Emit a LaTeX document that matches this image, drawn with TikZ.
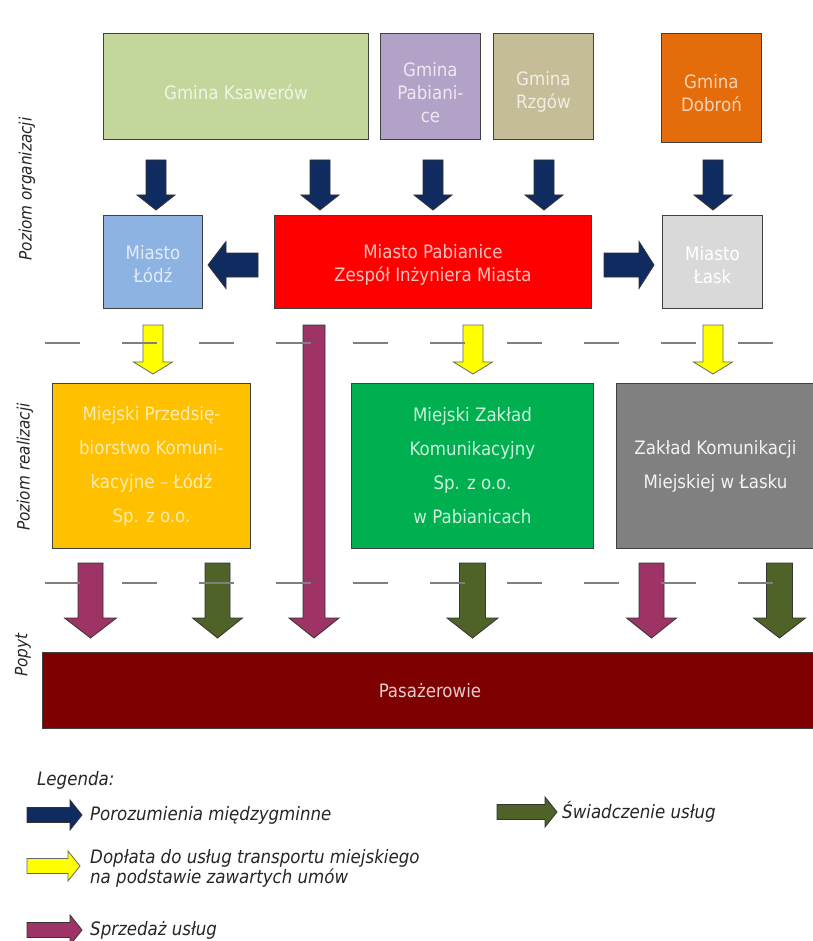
\documentclass[tikz,border=0pt]{standalone}
\usepackage{fontspec}
\setmainfont{DejaVu Sans Condensed}[ItalicFont={DejaVu Sans Condensed Oblique}]
\usetikzlibrary{calc}
\definecolor{cKsa}{HTML}{C3D69B}
\definecolor{cPab}{HTML}{B3A2C7}
\definecolor{cRzg}{HTML}{C4BD97}
\definecolor{cDob}{HTML}{E46C0A}
\definecolor{cLod}{HTML}{8DB3E2}
\definecolor{cRed}{HTML}{FF0000}
\definecolor{cLas}{HTML}{D9D9D9}
\definecolor{cMPK}{HTML}{FFC000}
\definecolor{cMZK}{HTML}{00B050}
\definecolor{cZKM}{HTML}{808080}
\definecolor{cPas}{HTML}{7F0000}
\definecolor{aBlue}{HTML}{0F2B5F}
\definecolor{aYel}{HTML}{FFFF00}
\definecolor{aPur}{HTML}{9E3366}
\definecolor{aGrn}{HTML}{4F6228}
\definecolor{dashc}{HTML}{7F7F7F}
% block arrow: #1 style, #2 start, #3 tip, #4 shaft half width, #5 head half width, #6 head length
\newcommand{\barrow}[6]{%
  \coordinate (bA) at (#2);
  \coordinate (bT) at (#3);
  \coordinate (bH) at ($(bT)!#6!(bA)$);
  \draw[#1] ($(bA)!#4!90:(bT)$) -- ($(bH)!#4!90:(bT)$) -- ($(bH)!#5!90:(bT)$) -- (bT)
    -- ($(bH)!#5!-90:(bT)$) -- ($(bH)!#4!-90:(bT)$) -- ($(bA)!#4!-90:(bT)$) -- cycle;}
\begin{document}
\begin{tikzpicture}[x=1pt,y=-1pt,
  box/.style={draw=black!75, line width=0.9pt, inner sep=0pt, align=center, anchor=north west},
  topfont/.style={font=\fontsize{18.5}{23}\selectfont},
  lowfont/.style={font=\fontsize{18.5}{34}\selectfont},
  tl/.style={topfont, align=center, inner sep=0pt},
  blk/.style={draw=black!80, line width=0.8pt, line join=miter},
  bluearr/.style={blk, fill=aBlue},
  yelarr/.style={blk, draw=black!60, fill=aYel},
  purarr/.style={blk, fill=aPur},
  grnarr/.style={blk, fill=aGrn},
  sidelabel/.style={rotate=90, inner sep=0pt, font=\fontsize{17}{20}\selectfont\itshape, text=black!85},
  legtext/.style={anchor=west, inner sep=0pt, align=left, font=\fontsize{18.5}{20}\selectfont\itshape, text=black!85},
  sepline/.style={draw=dashc, line width=1.6pt, dash pattern=on 35pt off 42pt}]
\useasboundingbox[fill=white] (0,0) rectangle (812,941);

% organisation level
\node[box, fill=cKsa, minimum width=265pt, minimum height=106pt,
  label={[tl, yshift=-6pt, text=white!75!cKsa]center:Gmina Ksawerów}] (gk) at (103,33) {};
\node[box, fill=cPab, minimum width=100pt, minimum height=106pt,
  label={[tl, yshift=-6pt, text=white!75!cPab]center:{Gmina\\Pabiani-\\ce}}] (gp) at (380,33) {};
\node[box, fill=cRzg, minimum width=100pt, minimum height=106pt,
  label={[tl, yshift=-5pt, text=white!75!cRzg]center:{Gmina\\Rzgów}}] (gr) at (493,33) {};
\node[box, fill=cDob, minimum width=100pt, minimum height=109pt,
  label={[tl, yshift=-5pt, text=white!70!cDob]center:{Gmina\\Dobroń}}] (gd) at (661,33) {};
\node[box, fill=cLod, minimum width=99pt, minimum height=93pt,
  label={[tl, yshift=-2pt, text=white!75!cLod]center:{Miasto\\Łódź}}] (ml) at (103,215) {};
\node[box, fill=cRed, minimum width=317pt, minimum height=93pt,
  label={[tl, yshift=-3pt, text=white!75!cRed]center:{Miasto Pabianice\\Zespół Inżyniera Miasta}}] (mp) at (274,215) {};
\node[box, fill=cLas, minimum width=100pt, minimum height=93pt,
  label={[tl, yshift=-3pt, text=white]center:{Miasto\\Łask}}] (mla) at (662,215) {};

% realisation level
\node[box, lowfont, fill=cMPK, text=white!70!cMPK, minimum width=198pt, minimum height=165pt] (mpk) at (52,383) {Miejski Przedsię-\\biorstwo Komuni-\\kacyjne – Łódź\\Sp. z o.o.};
\node[box, lowfont, fill=cMZK, text=white!80!cMZK, minimum width=242pt, minimum height=165pt] (mzk) at (351,383) {Miejski Zakład\\Komunikacyjny\\Sp. z o.o.\\w Pabianicach};
\node[box, lowfont, fill=cZKM, text=white!90!cZKM, minimum width=198pt, minimum height=165pt] (zkm) at (616,383) {Zakład Komunikacji\\Miejskiej w Łasku};

% demand
\node[box, topfont, fill=cPas, text=white!80!cPas, minimum width=775pt, minimum height=76pt] (pas) at (42,652) {Pasażerowie};

% side labels
\node[sidelabel] (lo) at (27,189) {Poziom organizacji};
\node[sidelabel] (lr) at (25,467) {Poziom realizacji};
\node[sidelabel] (lp) at (23,655) {Popyt};

% blue arrows (agreements)
\barrow{bluearr}{156,160}{156,210}{10pt}{19pt}{15pt}
\barrow{bluearr}{320,160}{320,210}{10pt}{19pt}{15pt}
\barrow{bluearr}{433,160}{433,210}{10pt}{19pt}{15pt}
\barrow{bluearr}{544,160}{544,210}{10pt}{19pt}{15pt}
\barrow{bluearr}{713,160}{713,210}{10pt}{19pt}{15pt}
\barrow{bluearr}{258,265}{208,265}{12pt}{23.5pt}{18pt}
\barrow{bluearr}{604,265}{654,265}{12pt}{23.5pt}{15pt}

% yellow arrows (subsidies)
\barrow{yelarr}{153,325}{153,374}{10pt}{19.5pt}{12pt}
\barrow{yelarr}{473,325}{473,374}{10pt}{19.5pt}{12pt}
\barrow{yelarr}{713,325}{713,374}{10pt}{19.5pt}{12pt}

% purple / green arrows
\barrow{purarr}{314,325}{314,638}{11pt}{25pt}{20pt}
\barrow{purarr}{90.5,563}{90.5,638}{12.5pt}{26pt}{20pt}
\barrow{grnarr}{217.5,563}{217.5,638}{12.5pt}{25pt}{20pt}
\barrow{grnarr}{472.5,563}{472.5,638}{13pt}{25.5pt}{20pt}
\barrow{purarr}{651.5,563}{651.5,638}{12.5pt}{25pt}{20pt}
\barrow{grnarr}{779.5,563}{779.5,638}{13pt}{26pt}{20pt}

% level separators
\draw[sepline] (45,343) -- (830,343);
\draw[sepline] (45,583) -- (830,583);

% legend
\node[legtext] (leg) at (37,780) {Legenda:};
\barrow{bluearr}{27,815}{82,815}{7.5pt}{15pt}{12pt}
\node[legtext] (l1) at (90,815) {Porozumienia międzygminne};
\barrow{yelarr}{27,866}{80,866}{7.5pt}{15pt}{12pt}
\node[legtext] (l2) at (90,868) {Dopłata do usług transportu miejskiego\\na podstawie zawartych umów};
\barrow{purarr}{27,930}{82,930}{7.5pt}{15pt}{12pt}
\node[legtext] (l3) at (90,930) {Sprzedaż usług};
\barrow{grnarr}{497,812}{557,812}{7.5pt}{15pt}{12pt}
\node[legtext] (l4) at (562,812) {Świadczenie usług};
\end{tikzpicture}
\end{document}
